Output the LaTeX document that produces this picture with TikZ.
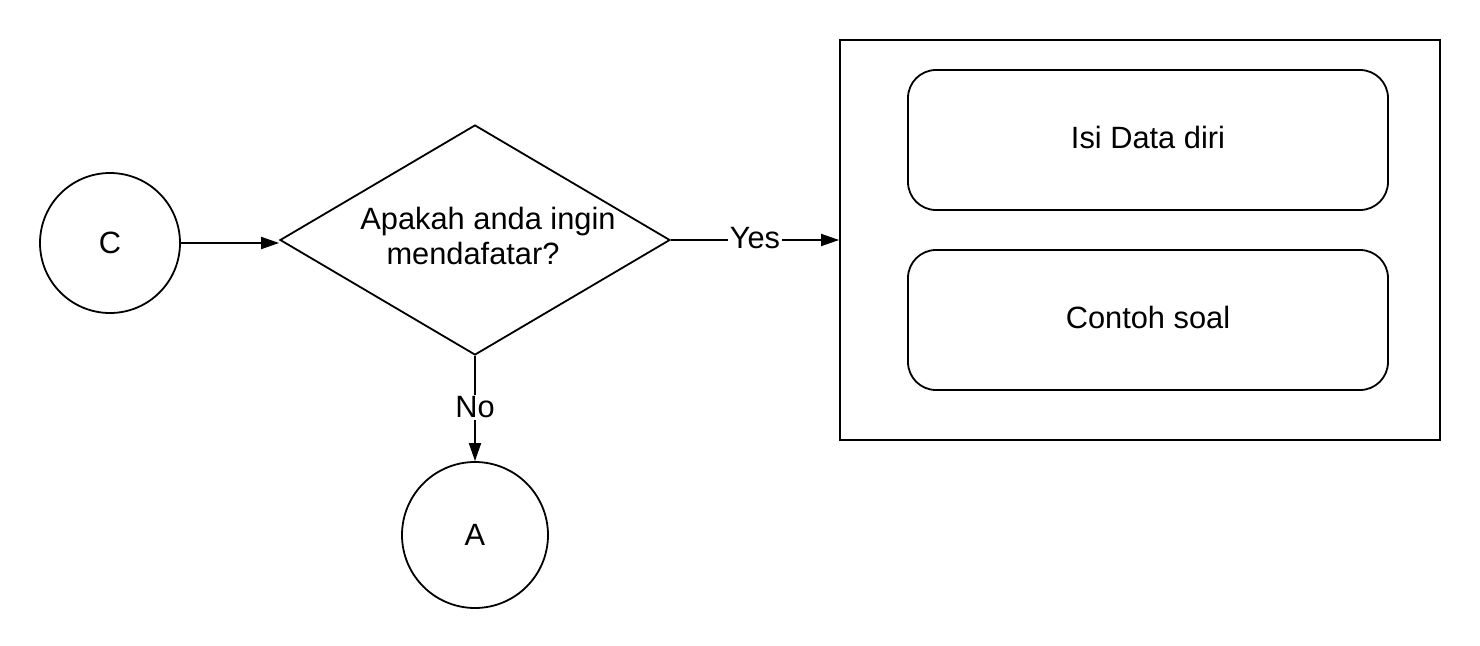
\documentclass[tikz,border=0pt]{standalone}
\usepackage{fontspec}
\setmainfont{Liberation Sans}
\usetikzlibrary{
    arrows.meta,
    shapes.geometric,
    positioning
}

\begin{document}
\begin{tikzpicture}[x=0.5pt, y=0.5pt,
        every node/.style={font=\fontsize{15.4}{17.2}\selectfont},
        connector/.style={draw, line width=0.9pt, -{Triangle[length=9pt, width=6pt]}},
        terminal/.style={draw, circle, line width=0.9pt, minimum size=70pt, inner sep=0pt},
        decision/.style={draw, diamond, line width=0.9pt, minimum width=195pt, minimum height=115pt, inner sep=0pt},
        panel/.style={draw, rectangle, line width=0.9pt, minimum width=300pt, minimum height=200pt},
        itembox/.style={draw, rectangle, rounded corners=14pt, line width=0.9pt, minimum width=240pt, minimum height=70pt},
        edgelabel/.style={fill=white, inner sep=1pt}
    ]
    \useasboundingbox (0, 0) rectangle (1480, 645);
    % start connector and the question
    \node[terminal] (c) at (110, 402) {C};
    \node[decision] (ask) at (475, 405) {};
    \node[align=center] (askText) at (488, 409) {Apakah anda ingin\\mendafatar?\hspace*{15pt}};
    % registration panel
    \node[panel] (form) at (1140, 405) {};
    \node[itembox] (dataDiri) at (1148, 505) {};
    \node at ([yshift=1.5pt]dataDiri.center) {Isi Data diri};
    \node[itembox] (contohSoal) at (1148, 325) {};
    \node at ([yshift=1.5pt]contohSoal.center) {Contoh soal};
    % exit connector
    \node[terminal, minimum size=73pt] (a) at (475, 110) {A};
    % arrows
    \draw[connector] (c.east) -- (c.east -| ask.west);
    \draw[connector] (ask.east) -- node[edgelabel, yshift=1pt] {Yes} (form.west);
    \draw[connector] (ask.south) -- node[edgelabel, yshift=0.5pt] {No} (a.north);
\end{tikzpicture}
\end{document}
